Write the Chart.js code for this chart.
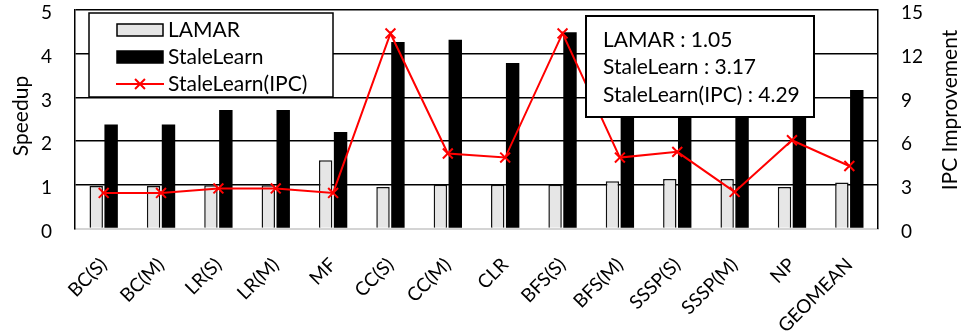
<!DOCTYPE html>
<html>
<head>
<meta charset="utf-8">
<script src="https://cdn.jsdelivr.net/npm/chart.js@4.4.0/dist/chart.umd.min.js"></script>
<style>
  html, body { margin: 0; padding: 0; background: #fff; }
  #c { display: block; }
</style>
</head>
<body>
<canvas id="c" width="961" height="335"></canvas>
<script>
// Benchmarks (last entry is the geometric mean)
const categories = ['BC(S)', 'BC(M)', 'LR(S)', 'LR(M)', 'MF', 'CC(S)', 'CC(M)', 'CLR',
                    'BFS(S)', 'BFS(M)', 'SSSP(S)', 'SSSP(M)', 'NP', 'GEOMEAN'];

// Speedup (left axis)
const lamarSpeedup      = [0.97, 0.97, 0.99, 0.99, 1.56, 0.95, 1.00, 1.00, 1.00, 1.08, 1.13, 1.13, 0.95, 1.05];
const staleLearnSpeedup = [2.38, 2.38, 2.71, 2.71, 2.21, 4.27, 4.32, 3.79, 4.49, 3.50, 3.30, 2.90, 3.35, 3.17];

// IPC improvement (right axis)
const staleLearnIpc     = [2.44, 2.44, 2.75, 2.75, 2.44, 13.39, 5.15, 4.87, 13.39, 4.87, 5.26, 2.51, 6.06, 4.29];

// Axis ranges
const speedupRange = { min: 0, max: 5, step: 1 };
const ipcRange     = { min: 0, max: 15, step: 3 };

const FONT_FAMILY = 'Lato, "Open Sans", sans-serif';
const TEXT_FONT = '21px ' + FONT_FAMILY;
const TITLE_FONT = '21px ' + FONT_FAMILY;

// Legend and geomean summary box drawn inside the plot, plus axis titles
const overlay = {
  id: 'overlay',
  afterDatasetsDraw(chart) {
    const ctx = chart.ctx;
    const ds = chart.data.datasets;
    ctx.save();
    ctx.font = TEXT_FONT;
    ctx.textBaseline = 'alphabetic';
    ctx.textAlign = 'left';

    // Legend
    ctx.fillStyle = '#fff';
    ctx.fillRect(89, 13, 244, 84);
    ctx.lineWidth = 1.5;
    ctx.strokeStyle = '#000';
    ctx.strokeRect(89, 13, 244, 84);

    const bars = [ds[1], ds[2]];
    const rowsY = [37, 64, 91];
    // bar swatches
    bars.forEach((d, i) => {
      const y = rowsY[i] - 13;
      ctx.fillStyle = d.backgroundColor;
      ctx.fillRect(117, y, 46, 12);
      ctx.lineWidth = 1.5;
      ctx.strokeStyle = '#000';
      ctx.strokeRect(117, y, 46, 12);
      ctx.fillStyle = '#000';
      ctx.fillText(d.label, 168, rowsY[i]);
    });
    // line swatch
    const ly = rowsY[2] - 7;
    ctx.strokeStyle = ds[0].borderColor;
    ctx.lineWidth = 2;
    ctx.beginPath();
    ctx.moveTo(116, ly); ctx.lineTo(164, ly);
    ctx.stroke();
    Chart.helpers.drawPoint(ctx, {
      pointStyle: 'crossRot', radius: 7, borderWidth: 2, rotation: 0
    }, 140, ly);
    ctx.fillStyle = '#000';
    ctx.fillText(ds[0].label, 168, rowsY[2]);

    // Geomean summary box
    const g = categories.length - 1;
    const lines = [
      ds[1].label + ' : ' + ds[1].data[g].toFixed(2),
      ds[2].label + ' : ' + ds[2].data[g].toFixed(2),
      ds[0].label + ' : ' + ds[0].data[g].toFixed(2)
    ];
    ctx.fillStyle = '#fff';
    ctx.fillRect(586, 16, 228, 101);
    ctx.lineWidth = 2;
    ctx.strokeStyle = '#000';
    ctx.strokeRect(586, 16, 228, 101);
    ctx.fillStyle = '#000';
    const by = [46.5, 74, 101.5];
    lines.forEach((t, i) => ctx.fillText(t, 603, by[i]));
    ctx.restore();
  },
  afterDraw(chart) {
    const ctx = chart.ctx;
    ctx.save();
    ctx.font = TITLE_FONT;
    ctx.fillStyle = '#000';
    ctx.textAlign = 'center';
    ctx.textBaseline = 'middle';
    const titles = [['Speedup', 21, 116], ['IPC Improvement', 950, 110]];
    titles.forEach(([t, x, y]) => {
      ctx.save();
      ctx.translate(x, y);
      ctx.rotate(-Math.PI / 2);
      ctx.fillText(t, 0, 0);
      ctx.restore();
    });
    ctx.restore();
  }
};

// Fixed axis sizes so the plot area keeps its place
function fixVertical(width) {
  return (scale) => {
    scale.width = width;
    scale.paddingTop = 0;
    scale.paddingBottom = 0;
  };
}

function draw() {
  new Chart(document.getElementById('c'), {
    data: {
      labels: categories,
      datasets: [
        {
          type: 'line',
          label: 'StaleLearn(IPC)',
          data: staleLearnIpc,
          yAxisID: 'y1',
          order: 0,
          borderColor: '#ff0000',
          backgroundColor: '#ff0000',
          borderWidth: 2,
          tension: 0,
          pointStyle: 'crossRot',
          pointRadius: 7,
          pointBorderWidth: 2,
          pointBorderColor: '#ff0000'
        },
        {
          type: 'bar',
          label: 'LAMAR',
          data: lamarSpeedup,
          yAxisID: 'y',
          order: 1,
          backgroundColor: '#e6e6e6',
          borderColor: '#111',
          borderWidth: 1.5,
          barPercentage: 0.9,
          categoryPercentage: 0.52
        },
        {
          type: 'bar',
          label: 'StaleLearn',
          data: staleLearnSpeedup,
          yAxisID: 'y',
          order: 2,
          backgroundColor: '#000000',
          borderWidth: 0,
          barPercentage: 0.9,
          categoryPercentage: 0.52
        }
      ]
    },
    options: {
      responsive: false,
      animation: false,
      events: [],
      layout: { padding: { top: 10, left: 0, right: 0, bottom: 0 } },
      plugins: { legend: { display: false }, tooltip: { enabled: false } },
      scales: {
        x: {
          grid: { display: false },
          border: { display: true, color: '#d4d4d4', width: 2 },
          ticks: {
            autoSkip: false,
            minRotation: 45,
            maxRotation: 45,
            padding: 17,
            color: '#000',
            font: { family: FONT_FAMILY, size: 19 }
          },
          afterFit(scale) {
            scale.height = 106.5;
            scale.paddingLeft = 0;
            scale.paddingRight = 0;
          }
        },
        y: {
          position: 'left',
          min: speedupRange.min,
          max: speedupRange.max,
          grid: {
            drawTicks: false,
            lineWidth: 1.5,
            color: (c) => c.tick && c.tick.value === 0 ? 'rgba(0,0,0,0)' : '#000'
          },
          border: { display: true, color: '#000', width: 1.5 },
          ticks: {
            stepSize: speedupRange.step,
            padding: 23,
            labelOffset: 3,
            color: '#000',
            font: { family: FONT_FAMILY, size: 19 }
          },
          afterFit: fixVertical(75)
        },
        y1: {
          position: 'right',
          min: ipcRange.min,
          max: ipcRange.max,
          grid: { drawOnChartArea: false, drawTicks: false },
          border: { display: true, color: '#000', width: 1.5 },
          ticks: {
            stepSize: ipcRange.step,
            padding: 23,
            labelOffset: 3,
            color: '#000',
            font: { family: FONT_FAMILY, size: 19 }
          },
          afterFit: fixVertical(83)
        }
      }
    },
    plugins: [overlay]
  });
}

if (document.fonts && document.fonts.load) {
  document.fonts.load(TEXT_FONT).then(draw, draw);
} else {
  draw();
}
</script>
</body>
</html>
